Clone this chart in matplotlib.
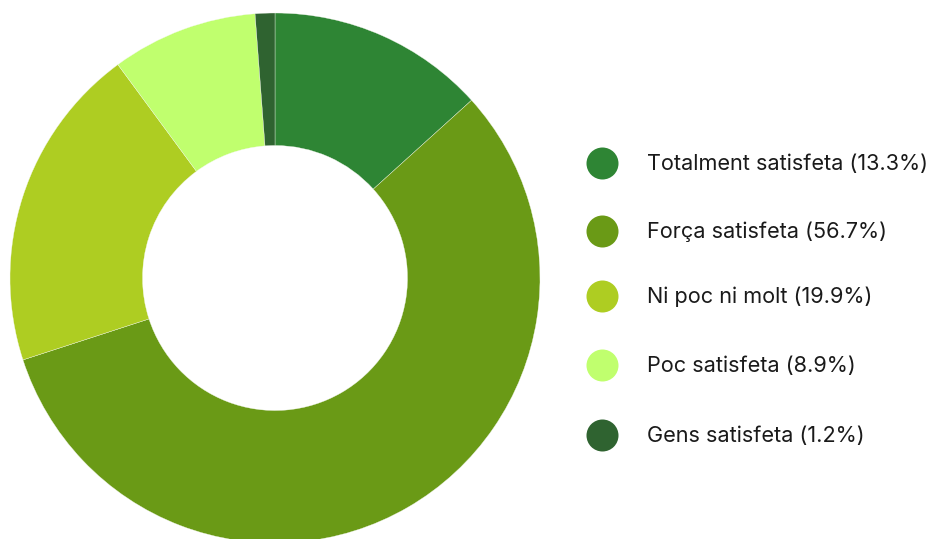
import matplotlib
matplotlib.use("Agg")
import matplotlib.pyplot as plt

labels = ["Totalment satisfeta", "Força satisfeta", "Ni poc ni molt", "Poc satisfeta", "Gens satisfeta"]
shares = [13.3, 56.7, 19.9, 8.9, 1.2]
colors = ["#2e8534", "#6a9a16", "#aecd22", "#c0ff6e", "#2f6330"]

W, H = 939, 539
fig = plt.figure(figsize=(W / 100, H / 100), dpi=100)

# donut, centred at (275, 278) px with outer radius 265 px
cx, cy, r = 275, 278, 265
ax = fig.add_axes([(cx - r) / W, (H - cy - r) / H, 2 * r / W, 2 * r / H])
ax.pie(shares, colors=colors, startangle=90, counterclock=False, radius=1,
       wedgeprops=dict(width=0.5, edgecolor="#f4f8ee", linewidth=0.25))
ax.set_xlim(-1, 1); ax.set_ylim(-1, 1)
ax.set_aspect("equal")
ax.axis("off")

# legend drawn in pixel space on an overlay axes
lax = fig.add_axes([0, 0, 1, 1])
lax.set_xlim(0, W); lax.set_ylim(H, 0)
lax.axis("off")
ys = [163, 231, 296, 365, 435]
for y, lab, val, col in zip(ys, labels, shares, colors):
    lax.scatter([602], [y], s=(32 * 0.72) ** 2, color=col, linewidths=0)
    lax.text(647, y + 1, f"{lab} ({val}%)", fontsize=15.6, color="#1a1a1a",
             va="center", ha="left", family="Inter")

fig.savefig("out.png", dpi=100)
